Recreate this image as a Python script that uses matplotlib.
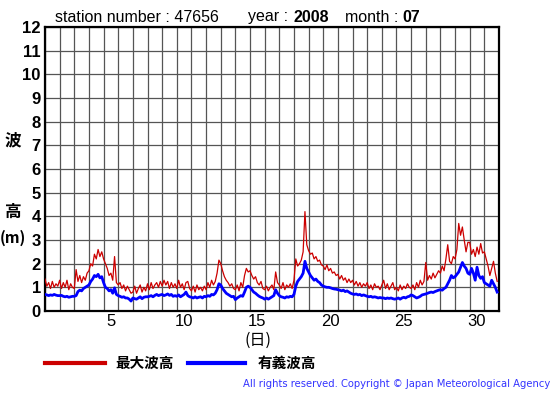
import numpy as np
import matplotlib
matplotlib.use("Agg")
import matplotlib.pyplot as plt

plt.rcParams['font.family'] = ['Liberation Sans', 'Noto Sans CJK JP', 'DejaVu Sans']

# 3-hourly samples, July 2008 (8 per day)
max_wave = [
    1.35, 1.05, 1.2, 0.95, 1.25, 1.0, 1.15, 1.05,
    1.3, 0.95, 1.2, 1.0, 1.3, 0.9, 1.15, 1.0,
    0.95, 1.75, 1.25, 1.5, 1.2, 1.45, 1.3, 1.6,
    1.7, 2.0, 1.9, 2.4, 2.2, 2.6, 2.3, 2.5,
    2.2, 2.0, 1.8, 1.5, 1.6, 1.3, 2.3, 1.2,
    1.1, 1.2, 0.95, 1.1, 0.85, 1.05, 0.9, 0.75,
    0.8, 1.05, 0.75, 0.95, 1.1, 0.8, 1.0, 0.85,
    1.15, 0.9, 1.2, 0.95, 1.1, 1.2, 1.0, 1.25,
    1.05, 1.3, 1.1, 1.25, 0.95, 1.2, 1.0, 1.15,
    0.95, 1.3, 1.0, 1.15, 0.9, 1.2, 1.25, 0.95,
    0.85, 1.05, 0.8, 1.1, 0.9, 1.0, 0.85, 1.05,
    0.9, 1.2, 1.0, 1.3, 1.1, 1.25, 1.6, 2.15,
    2.0, 1.7, 1.45, 1.3, 1.2, 1.05, 1.15, 0.95,
    0.9, 1.1, 0.85, 1.2, 1.0, 1.5, 1.8, 1.65,
    1.7, 1.5, 1.35, 1.45, 1.2, 1.1, 1.25, 0.95,
    0.9, 1.05, 0.85, 1.0, 1.1, 0.9, 1.65, 1.2,
    1.1, 0.95, 1.2, 0.9, 1.1, 1.0, 1.15, 0.95,
    1.3, 2.2, 1.9, 2.0, 2.15, 2.5, 4.2, 2.8,
    2.55, 2.4, 2.45, 2.2, 2.3, 2.1, 2.15, 1.95,
    1.9, 1.75, 1.95, 1.7, 1.8, 1.6, 1.65, 1.5,
    1.55, 1.35, 1.5, 1.3, 1.4, 1.2, 1.35, 1.2,
    1.3, 1.1, 1.25, 1.05, 1.2, 1.0, 1.15, 1.05,
    1.2, 0.95, 1.1, 0.9, 1.15, 1.0, 1.05, 0.9,
    1.1, 1.3, 0.95, 1.15, 0.9, 1.05, 1.2, 0.9,
    1.0, 0.85, 1.1, 0.9, 1.05, 0.95, 1.15, 1.0,
    0.95, 1.1, 0.9, 1.2, 1.0, 1.3, 1.1, 1.25,
    2.05, 1.3, 1.5, 1.35, 1.6, 1.4, 1.55, 1.7,
    1.6, 1.9, 1.7, 2.2, 2.8, 2.1, 2.0, 2.3,
    2.2, 2.6, 3.7, 3.2, 3.55, 3.0, 2.5, 2.9,
    2.9, 2.4, 2.6, 2.3, 2.7, 2.4, 2.85, 2.45,
    2.5, 2.2, 1.9, 1.5, 1.8, 2.1, 1.6, 1.25,
]

sig_wave = [
    0.7, 0.68, 0.65, 0.68, 0.66, 0.7, 0.67, 0.65,
    0.65, 0.66, 0.62, 0.6, 0.62, 0.58, 0.6, 0.62,
    0.62, 0.65, 0.82, 0.88, 0.85, 0.95, 1.0, 1.05,
    1.1, 1.25, 1.35, 1.5, 1.45, 1.55, 1.4, 1.45,
    1.2, 1.0, 0.95, 0.85, 0.9, 0.75, 0.98, 0.7,
    0.65, 0.62, 0.58, 0.6, 0.55, 0.55, 0.5, 0.42,
    0.55, 0.52, 0.5, 0.55, 0.6, 0.52, 0.58, 0.6,
    0.6, 0.62, 0.65, 0.6, 0.66, 0.7, 0.65, 0.68,
    0.7, 0.65, 0.68, 0.72, 0.66, 0.7, 0.62, 0.65,
    0.62, 0.68, 0.6, 0.65, 0.7, 0.8, 0.65, 0.6,
    0.58, 0.55, 0.6, 0.55, 0.58, 0.6, 0.55, 0.62,
    0.6, 0.65, 0.62, 0.7, 0.68, 0.75, 0.9, 1.15,
    1.1, 0.95, 0.85, 0.75, 0.7, 0.65, 0.6, 0.62,
    0.48, 0.55, 0.6, 0.65, 0.62, 0.8, 1.0, 1.05,
    1.0, 0.9, 0.8, 0.75, 0.68, 0.62, 0.58, 0.55,
    0.5, 0.55, 0.5, 0.55, 0.6, 0.65, 0.9, 0.75,
    0.65, 0.6, 0.58, 0.55, 0.6, 0.58, 0.62, 0.6,
    0.7, 1.05, 1.25, 1.35, 1.45, 1.6, 2.1, 1.8,
    1.65, 1.5, 1.4, 1.3, 1.35, 1.25, 1.2, 1.1,
    1.05, 1.02, 1.0, 1.0, 0.98, 0.95, 0.93, 0.92,
    0.9, 0.88, 0.85, 0.88, 0.82, 0.85, 0.8, 0.75,
    0.72, 0.7, 0.72, 0.68, 0.7, 0.65, 0.68, 0.65,
    0.62, 0.6, 0.62, 0.58, 0.6, 0.58, 0.55, 0.57,
    0.55, 0.55, 0.52, 0.55, 0.53, 0.55, 0.52, 0.5,
    0.52, 0.55, 0.5, 0.55, 0.58, 0.55, 0.6, 0.62,
    0.68, 0.65, 0.6, 0.55, 0.58, 0.62, 0.68, 0.7,
    0.72, 0.75, 0.78, 0.8, 0.78, 0.82, 0.85, 0.88,
    0.9, 0.88, 0.95, 1.0, 1.15, 1.3, 1.5, 1.4,
    1.45, 1.55, 1.65, 1.85, 2.05, 1.9, 1.8, 1.6,
    1.55, 1.8, 1.6, 1.3, 1.85, 1.5, 1.38, 1.45,
    1.2, 1.15, 1.1, 1.05, 1.3, 1.15, 1.0, 0.8,
]

day_labels = ['5', '10', '15', '20', '25', '30']
y_labels = [str(i) for i in range(13)]
n_days = 31
samples_per_day = 8

t = np.arange(len(max_wave)) / samples_per_day

W, H = 555, 395
fig = plt.figure(figsize=(W / 100, H / 100), dpi=100)
ax = fig.add_axes([45 / W, 1 - 311 / H, (499 - 45) / W, (311 - 27) / H])

ax.plot(t, max_wave, color='#cc0000', lw=0.9, zorder=3)
ax.plot(t, sig_wave, color='#0000ff', lw=2.0, zorder=4)

ax.set_xlim(0, n_days)
ax.set_ylim(0, 12)
ax.set_xticks(np.arange(0, n_days + 1), minor=True)
ax.set_xticks([int(d) - 0.5 for d in day_labels])
ax.set_xticklabels(day_labels, fontsize=12)
ax.set_yticks(range(13))
ax.set_yticklabels(y_labels, fontsize=12, fontweight='bold')
ax.tick_params(axis='both', which='both', length=0)
ax.tick_params(axis='x', pad=2)
ax.tick_params(axis='y', pad=3)
ax.grid(which='minor', axis='x', color='#555555', lw=0.9)
ax.grid(which='major', axis='y', color='#555555', lw=0.9)
ax.grid(which='major', axis='x', visible=False)
for s in ax.spines.values():
    s.set_linewidth(1.6)
    s.set_color('black')

def fx(x):
    return x / W

def fy(y):
    return 1 - y / H

fig.text(fx(55), fy(17), 'station number : 47656', fontsize=11.5, va='center', ha='left')
fig.text(fx(248), fy(17), 'year :', fontsize=11.5, va='center', ha='left')
fig.text(fx(293), fy(17), '2008', fontsize=11.5, fontweight='bold', va='center', ha='left')
fig.text(fx(345), fy(17), 'month :', fontsize=11.5, va='center', ha='left')
fig.text(fx(402), fy(17), '07', fontsize=11.5, fontweight='bold', va='center', ha='left')

cjk = ['Noto Sans CJK JP', 'DejaVu Sans']
fig.text(fx(13), fy(140), '波', fontsize=12, family=cjk, fontweight='bold', ha='center', va='center')
fig.text(fx(13), fy(212), '高', fontsize=12, family=cjk, fontweight='bold', ha='center', va='center')
fig.text(fx(13), fy(238), '(m)', fontsize=11, family=cjk, fontweight='bold', ha='center', va='center')
fig.text(fx(258), fy(340), '(日)', fontsize=11.5, family=cjk, ha='center', va='center')

# legend
fig.add_artist(plt.Line2D([fx(45), fx(105)], [fy(363), fy(363)], color='#cc0000', lw=3))
fig.text(fx(115), fy(363), '最大波高', fontsize=10.5, family=cjk, fontweight='bold', va='center', ha='left')
fig.add_artist(plt.Line2D([fx(188), fx(245)], [fy(363), fy(363)], color='#0000ff', lw=3))
fig.text(fx(258), fy(363), '有義波高', fontsize=10.5, family=cjk, fontweight='bold', va='center', ha='left')

fig.text(fx(550), fy(384), 'All rights reserved. Copyright \u00a9 Japan Meteorological Agency',
         fontsize=7.2, color='#3333ff', ha='right', va='center', family=['DejaVu Sans'])

fig.savefig('out.png', dpi=100)
